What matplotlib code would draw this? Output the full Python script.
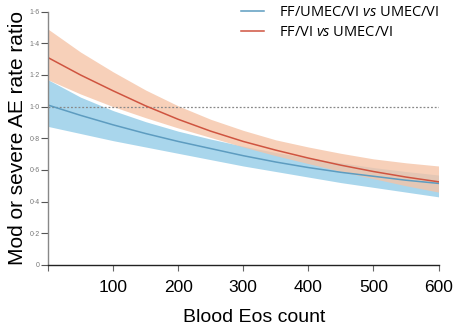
import matplotlib
matplotlib.use("Agg")
import matplotlib.pyplot as plt
import numpy as np

plt.rcParams['font.family'] = ['Liberation Sans', 'DejaVu Sans']
plt.rcParams['mathtext.fontset'] = 'custom'
plt.rcParams['mathtext.it'] = 'Open Sans:italic'
plt.rcParams['mathtext.rm'] = 'Open Sans'

eos = [0, 50, 100, 150, 200, 250, 300, 350, 400, 450, 500, 550, 600]

red_mid = [1.31, 1.20, 1.10, 1.005, 0.92, 0.845, 0.78, 0.725, 0.675, 0.63, 0.59, 0.555, 0.525]
red_hi = [1.49, 1.345, 1.22, 1.105, 1.005, 0.92, 0.85, 0.79, 0.745, 0.705, 0.67, 0.645, 0.625]
red_lo = [1.17, 1.08, 1.00, 0.93, 0.865, 0.805, 0.745, 0.69, 0.64, 0.59, 0.545, 0.50, 0.46]

blue_mid = [1.01, 0.945, 0.885, 0.83, 0.78, 0.735, 0.69, 0.65, 0.615, 0.585, 0.56, 0.535, 0.515]
blue_hi = [1.17, 1.06, 0.975, 0.905, 0.845, 0.795, 0.75, 0.71, 0.675, 0.645, 0.615, 0.59, 0.568]
blue_lo = [0.875, 0.83, 0.785, 0.745, 0.705, 0.665, 0.625, 0.59, 0.555, 0.52, 0.49, 0.46, 0.43]

series_labels = [r"FF/UMEC/VI $\it{vs}$ UMEC/VI", r"FF/VI $\it{vs}$ UMEC/VI"]
x_ticks = [0, 100, 200, 300, 400, 500, 600]
x_tick_labels = ["", "100", "200", "300", "400", "500", "600"]
y_ticks = [0, 0.2, 0.4, 0.6, 0.8, 1.0, 1.2, 1.4, 1.6]

fig = plt.figure(figsize=(4.53, 3.25), dpi=100)
ax = fig.add_axes([0.106, 0.185, 0.862, 0.779])

ax.fill_between(eos, blue_lo, blue_hi, color='#a9d6ec', lw=0)
ax.fill_between(eos, red_lo, red_hi, color='#f5c3a6', alpha=0.78, lw=0)
ax.axhline(1.0, color='#888888', lw=0.9, ls=(0, (1.5, 1.5)), xmin=0, xmax=1)
l1, = ax.plot(eos, blue_mid, color='#5d9cc0', lw=1.1)
l2, = ax.plot(eos, red_mid, color='#cf5440', lw=1.1)

ax.set_xlim(0, 600)
ax.set_ylim(0, 1.6)
ax.set_xticks(x_ticks)
ax.set_xticklabels(x_tick_labels, fontsize=12.5)
ax.set_yticks(y_ticks)
ax.set_yticklabels([("0" if v == 0 else f"{v:.1f}".replace('.', '\u00b7')) for v in y_ticks],
                   fontsize=5, color='#777777')
ax.tick_params(axis='x', direction='out', length=4, width=0.8, color='#666666', pad=7)
ax.tick_params(axis='y', direction='out', length=5, width=0.8, color='#555555', pad=1)

for s in ['top', 'right']:
    ax.spines[s].set_visible(False)
ax.spines['left'].set_color('#888888')
ax.spines['bottom'].set_color('#222222')
ax.spines['left'].set_linewidth(1.0)
ax.spines['bottom'].set_linewidth(1.0)

ax.set_xlabel("Blood Eos count", fontsize=14)
ax.xaxis.set_label_coords(0.527, -0.175)
ax.set_ylabel("Mod or severe AE rate ratio", fontsize=15, labelpad=2)

leg = fig.legend([l1, l2], series_labels, loc='upper right',
                 bbox_to_anchor=(0.998, 1.025), frameon=False,
                 prop={'family': 'Open Sans', 'size': 10.5},
                 handlelength=1.6, handletextpad=1.0, labelspacing=0.35)

fig.savefig("out.png", dpi=100)
